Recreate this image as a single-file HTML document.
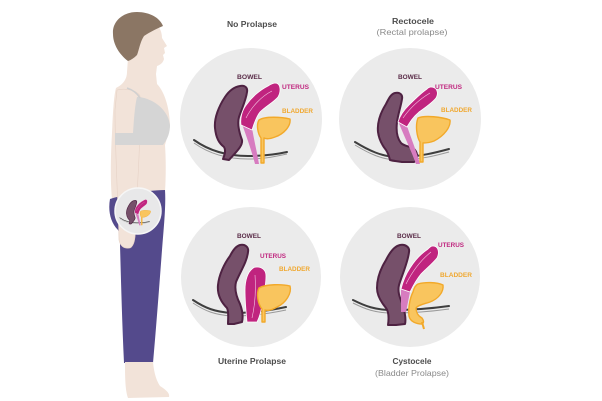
<!DOCTYPE html>
<html><head><meta charset="utf-8"><style>
html,body{margin:0;padding:0;background:#fff;}
svg{display:block;}
text{font-family:"Liberation Sans",sans-serif;}
.t{font-weight:bold;fill:#4d4d4d;font-size:8.6px;}
.s{fill:#8a8a8a;font-size:8.4px;}
.lb{font-weight:bold;fill:#5a2c48;font-size:6.4px;}
.lu{font-weight:bold;fill:#c0277f;font-size:6.4px;}
.ld{font-weight:bold;fill:#f0a830;font-size:6.4px;}
.bw{fill:#76506a;stroke:#4e2242;stroke-width:2;stroke-linejoin:round;}
.ut{fill:#c0247f;stroke:#fff;stroke-width:0.8;}
.st{fill:#d77cc0;}
.bl{fill:#f9c55e;stroke:#f2a92a;stroke-width:1.4;stroke-linejoin:round;}
.fl{fill:none;stroke:#3e3e3e;stroke-width:2;stroke-linecap:round;}
.fl2{fill:none;stroke:#9a9a9a;stroke-width:1;}
</style></head><body>
<svg width="602" height="401" viewBox="0 0 602 401" xmlns="http://www.w3.org/2000/svg">
<rect width="602" height="401" fill="#fff"/>

<!-- Woman -->
<path d="M128,58 C132,48 145,22 155,24 C160,26 162,33 162,38 L167,46 L164,48 L165,53 L163,55 L164,59 C163,63 160,65 157,66 L156,74 L157,84 C165,92 170,110 170,127 L165,145 C166,160 166,175 165,192 L112,199 C110,180 111,150 112,133 C113,110 114,95 116,88 C122,85 127,80 127,72 Z" fill="#f2e3d9"/>
<path d="M113,34 C112,22 122,12 137,12 C150,12 160,18 163,26 C158,28 150,32 144,36 C140,42 139,50 137,55 C134,58 131,60 128,61 C120,55 113,45 113,34 Z" fill="#8b7664"/>
<path d="M110,199 C108,210 110,222 118,230 L120,234 L120,245 C121,280 122,320 124,363 L153,363 C156,330 159,290 162,250 C164,225 166,205 165,190 C150,190 125,194 110,199 Z" fill="#544a8c"/>
<path d="M125,362 L153,362 C154,372 156,380 160,386 C166,390 170,393 169,397 L128,398 C125,390 125,375 125,362 Z" fill="#f2e3d9"/>
<path d="M117,90 C125,88 137,90 140,96 C141,130 138,180 135,228 C136,238 134,246 130,248 C124,249 120,246 119,240 C118,200 115,150 115,110 Z" fill="#f2e3d9" stroke="#e6d2c6" stroke-width="0.6"/>
<path d="M137,97 C150,97 168,108 170,125 C170,135 166,141 163,145 L115,145 L115,133 L133,133 C134,118 135,105 137,97 Z" fill="#d5d5d5"/>
<path d="M127,88 C133,90 137,93 140,98" fill="none" stroke="#d0d0d0" stroke-width="1.5"/>

<!-- Big circles -->
<circle cx="251" cy="119" r="71" fill="#ebebeb"/>
<circle cx="410" cy="119" r="71" fill="#ebebeb"/>
<circle cx="251" cy="277" r="70" fill="#ebebeb"/>
<circle cx="410" cy="277" r="70" fill="#ebebeb"/>

<!-- Titles -->
<text class="t" x="252" y="27" text-anchor="middle" textLength="50" lengthAdjust="spacingAndGlyphs">No Prolapse</text>
<text class="t" x="413" y="24" text-anchor="middle" textLength="42" lengthAdjust="spacingAndGlyphs">Rectocele</text>
<text class="s" x="412" y="35" text-anchor="middle" textLength="71" lengthAdjust="spacingAndGlyphs">(Rectal prolapse)</text>
<text class="t" x="252" y="364" text-anchor="middle" textLength="68" lengthAdjust="spacingAndGlyphs">Uterine Prolapse</text>
<text class="t" x="412" y="364" text-anchor="middle" textLength="39" lengthAdjust="spacingAndGlyphs">Cystocele</text>
<text class="s" x="412" y="376" text-anchor="middle" textLength="74" lengthAdjust="spacingAndGlyphs">(Bladder Prolapse)</text>

<!-- TL: No prolapse -->
<g id="tl">
<path class="fl2" d="M194,143 C208,153 225,159 248,159 C265,159 278,156 287,154"/>
<path class="fl" d="M194,140 C208,150 225,156 248,156 C265,156 278,154 287,152"/>
<path class="bw" d="M240,86 C244,85 248,87 247,92 C246,100 242,108 239,117 C237,124 239,132 242,140 C243,146 236,152 229,160 L223,159 C225,154 226,150 224,147 C219,143 216,138 215,128 C214,118 219,106 225,97 C229,91 234,87 240,86 Z"/>
<path class="st" d="M242,124 L252,128 C254,140 257,152 259,164 L255,164 C252,152 247,138 242,124 Z"/>
<path class="ut" d="M276,83 C281,84 281,92 278,97 C274,102 266,106 260,112 C256,117 254,124 252,130 L241,125 C240,118 242,110 247,104 C252,97 260,90 268,86 C271,84 273,83 276,83 Z"/>
<path d="M246,118 C252,106 262,96 272,91" fill="none" stroke="#f3c6e2" stroke-width="0.6"/>
<path class="bl" d="M259,120 C265,116 282,117 290,119 C291,126 284,134 275,137 C270,139 266,139 264,138 L264,163 L261,163 L261,138 C258,134 256,125 259,120 Z"/>
</g>
<text class="lb" x="237" y="79" textLength="25" lengthAdjust="spacingAndGlyphs">BOWEL</text>
<text class="lu" x="282" y="89" textLength="27" lengthAdjust="spacingAndGlyphs">UTERUS</text>
<text class="ld" x="282" y="113" textLength="31" lengthAdjust="spacingAndGlyphs">BLADDER</text>

<!-- TR: Rectocele -->
<path class="fl2" d="M355,145 C368,153 382,160 398,160 C420,160 438,155 449,152"/>
<path class="fl" d="M355,142 C368,150 382,157 398,157 C420,157 438,152 449,149"/>
<path class="bw" d="M395,93 C399,92 403,94 402,99 C401,106 398,114 397,122 C396,130 397,138 401,143 C405,147 412,146 415,150 C418,154 418,160 414,162 L402,162 C397,161 393,161 390,160 C389,156 388,153 386,150 C382,145 379,140 378,132 C377,122 381,112 386,104 C389,98 391,94 395,93 Z"/>
<path class="st" d="M398,121 L407,126 C411,138 416,150 420,164 L416,164 C411,150 404,136 398,121 Z"/>
<path class="ut" d="M431,87 C437,87 439,93 436,98 C432,103 426,107 419,112 C413,117 410,122 407,127 L398,122 C400,115 404,110 409,105 C415,99 421,93 427,89 C428,88 430,87 431,87 Z"/>
<path d="M403,118 C410,108 420,99 430,93" fill="none" stroke="#f3c6e2" stroke-width="0.6"/>
<path class="bl" d="M418,118 C425,115 442,117 450,120 C451,127 444,136 434,141 C429,143 425,143 423,143 L423,162 L420,162 L420,142 C417,137 415,126 418,118 Z"/>
<text class="lb" x="398" y="79" textLength="24" lengthAdjust="spacingAndGlyphs">BOWEL</text>
<text class="lu" x="435" y="89" textLength="27" lengthAdjust="spacingAndGlyphs">UTERUS</text>
<text class="ld" x="441" y="112" textLength="31" lengthAdjust="spacingAndGlyphs">BLADDER</text>

<!-- BL: Uterine prolapse -->
<path class="fl2" d="M193,303 C205,311 215,315 232,316 C255,316 272,313 286,310"/>
<path class="fl" d="M193,300 C205,308 215,312 232,313 C255,313 272,310 286,307"/>
<path class="bw" d="M240,245 C245,244 249,247 248,252 C247,262 240,272 236,282 C234,290 237,298 240,304 C243,312 243,318 242,322 L234,324 L228,324 C228,318 229,312 227,308 C221,302 217,295 218,285 C219,275 224,264 230,256 C233,250 236,246 240,245 Z"/>
<path class="ut" d="M257,267 C262,267 266,270 266,276 C266,285 264,295 262,305 C261,312 259,318 257,322 L247,322 C246,312 245,300 245,290 C245,280 248,272 252,269 C254,267 255,267 257,267 Z"/>
<path d="M255,275 C256,290 255,305 252,318" fill="none" stroke="#f3c6e2" stroke-width="0.6"/>
<path class="bl" d="M259,288 C266,284 282,284 290,286 C292,293 286,303 277,307 C272,310 268,311 265,310 L265,322 L262,322 L262,309 C258,304 256,294 259,288 Z"/>
<text class="lb" x="237" y="238" textLength="24" lengthAdjust="spacingAndGlyphs">BOWEL</text>
<text class="lu" x="260" y="258" textLength="26" lengthAdjust="spacingAndGlyphs">UTERUS</text>
<text class="ld" x="279" y="271" textLength="31" lengthAdjust="spacingAndGlyphs">BLADDER</text>

<!-- BR: Cystocele -->
<path class="fl2" d="M353,303 C365,309 375,313 392,313 C415,313 435,311 449,309"/>
<path class="fl" d="M353,300 C365,306 375,310 392,310 C415,310 435,308 449,306"/>
<path class="bw" d="M400,245 C405,244 410,247 409,252 C408,262 402,275 399,285 C397,293 401,300 403,306 C405,313 406,320 405,324 L396,325 L388,325 C389,318 389,312 386,308 C381,302 377,295 377,288 C377,278 381,268 386,260 C390,252 395,246 400,245 Z"/>
<path class="st" d="M401,288 L410,292 L406,312 L401,312 Z"/>
<path class="ut" d="M433,246 C438,246 440,252 437,258 C433,263 427,268 421,274 C416,280 413,286 410,292 L401,289 C403,281 406,274 410,268 C415,260 422,253 428,249 C430,247 431,246 433,246 Z"/>
<path d="M406,284 C412,272 421,260 431,252" fill="none" stroke="#f3c6e2" stroke-width="0.6"/>
<path class="bl" d="M418,284 C425,282 437,282 443,285 C444,292 438,299 430,302 C424,304 418,305 416,308 C416,312 418,316 422,318 C424,321 424,323 422,324 C417,324 410,322 409,316 C408,308 410,298 413,292 C414,288 416,285 418,284 Z"/>
<path d="M422,322 L424,329" stroke="#f2a92a" stroke-width="2"/>
<text class="lb" x="397" y="238" textLength="24" lengthAdjust="spacingAndGlyphs">BOWEL</text>
<text class="lu" x="438" y="247" textLength="26" lengthAdjust="spacingAndGlyphs">UTERUS</text>
<text class="ld" x="440" y="277" textLength="32" lengthAdjust="spacingAndGlyphs">BLADDER</text>

<!-- Mini circle on hip -->
<circle cx="138" cy="211" r="23" fill="#e8e8e9" stroke="#f6f6f6" stroke-width="1.5"/>
<use href="#tl" transform="translate(57.7,172.9) scale(0.32)"/>
</svg>
</body></html>
